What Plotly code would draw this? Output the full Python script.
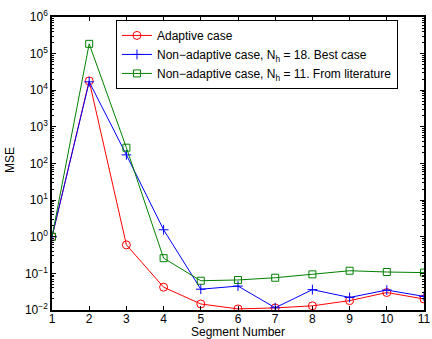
import plotly.graph_objects as go

segments = [1, 2, 3, 4, 5, 6, 7, 8, 9, 10, 11]
adaptive = [1.0, 1.8e4, 0.6, 0.042, 0.0146, 0.0107, 0.0114, 0.013, 0.018, 0.030, 0.020]
best_case = [1.0, 1.7e4, 172, 1.55, 0.037, 0.045, 0.0115, 0.036, 0.022, 0.035, 0.0235]
literature = [1.0, 1.85e5, 270, 0.26, 0.063, 0.066, 0.076, 0.094, 0.118, 0.109, 0.105]

y_exponents = [-2, -1, 0, 1, 2, 3, 4, 5, 6]
y_tickvals = [10.0 ** e for e in y_exponents]
y_ticktext = ["10<sup>%s</sup>" % (str(e).replace("-", "\u2212")) for e in y_exponents]

names = [
    "Adaptive case",
    "Non\u2212adaptive case, N<sub>h</sub> = 18. Best case",
    "Non\u2212adaptive case, N<sub>h</sub> = 11. From literature",
]
x_title = "Segment Number"
y_title = "MSE"

FONT = "Liberation Sans, Arial"

fig = go.Figure()
fig.add_trace(go.Scatter(x=segments, y=adaptive, name=names[0], mode="lines+markers",
                         line=dict(color="#ff0000", width=1),
                         marker=dict(symbol="circle-open", size=8, color="#ff0000", line=dict(width=1))))
fig.add_trace(go.Scatter(x=segments, y=best_case, name=names[1], mode="lines+markers",
                         line=dict(color="#0000ff", width=1),
                         marker=dict(symbol="cross-thin-open", size=7, color="#0000ff", line=dict(width=1, color="#0000ff"))))
fig.add_trace(go.Scatter(x=segments, y=literature, name=names[2], mode="lines+markers",
                         line=dict(color="#008000", width=1),
                         marker=dict(symbol="square-open", size=7, color="#008000", line=dict(width=1))))

axis_common = dict(showline=True, linecolor="black", linewidth=1.5, mirror="ticks",
                   ticks="inside", ticklen=4, tickcolor="black", showgrid=False, zeroline=False,
                   automargin=False,
                   tickfont=dict(family=FONT, size=12, color="black"))

fig.update_xaxes(range=[1, 11], dtick=1, tick0=1, ticklabelstandoff=-3, **axis_common)
fig.update_yaxes(type="log", range=[-2, 6], tickvals=y_tickvals, ticktext=y_ticktext,
                 minor=dict(ticks="inside", ticklen=2, tickcolor="black", dtick="D1", showgrid=False),
                 **axis_common)

fig.add_annotation(text=x_title, xref="paper", yref="paper", x=0.5, y=-0.0751,
                   xanchor="center", yanchor="middle", showarrow=False, borderpad=0,
                   font=dict(family=FONT, size=12, color="black"))
fig.add_annotation(text=y_title, xref="paper", yref="paper", x=-0.113, y=0.512,
                   xanchor="center", yanchor="middle", showarrow=False, textangle=-90,
                   font=dict(family=FONT, size=12, color="black"))

fig.update_layout(
    width=432, height=339,
    margin=dict(l=52, r=8, t=17, b=29),
    paper_bgcolor="white", plot_bgcolor="white",
    font=dict(family=FONT, size=12, color="black"),
    showlegend=True,
    legend=dict(x=0.172, y=0.99, xanchor="left", yanchor="top",
                bordercolor="black", borderwidth=1, bgcolor="white",
                font=dict(family=FONT, size=12, color="black"),
                tracegroupgap=0, itemwidth=30),
)

fig.write_html("out.html")
